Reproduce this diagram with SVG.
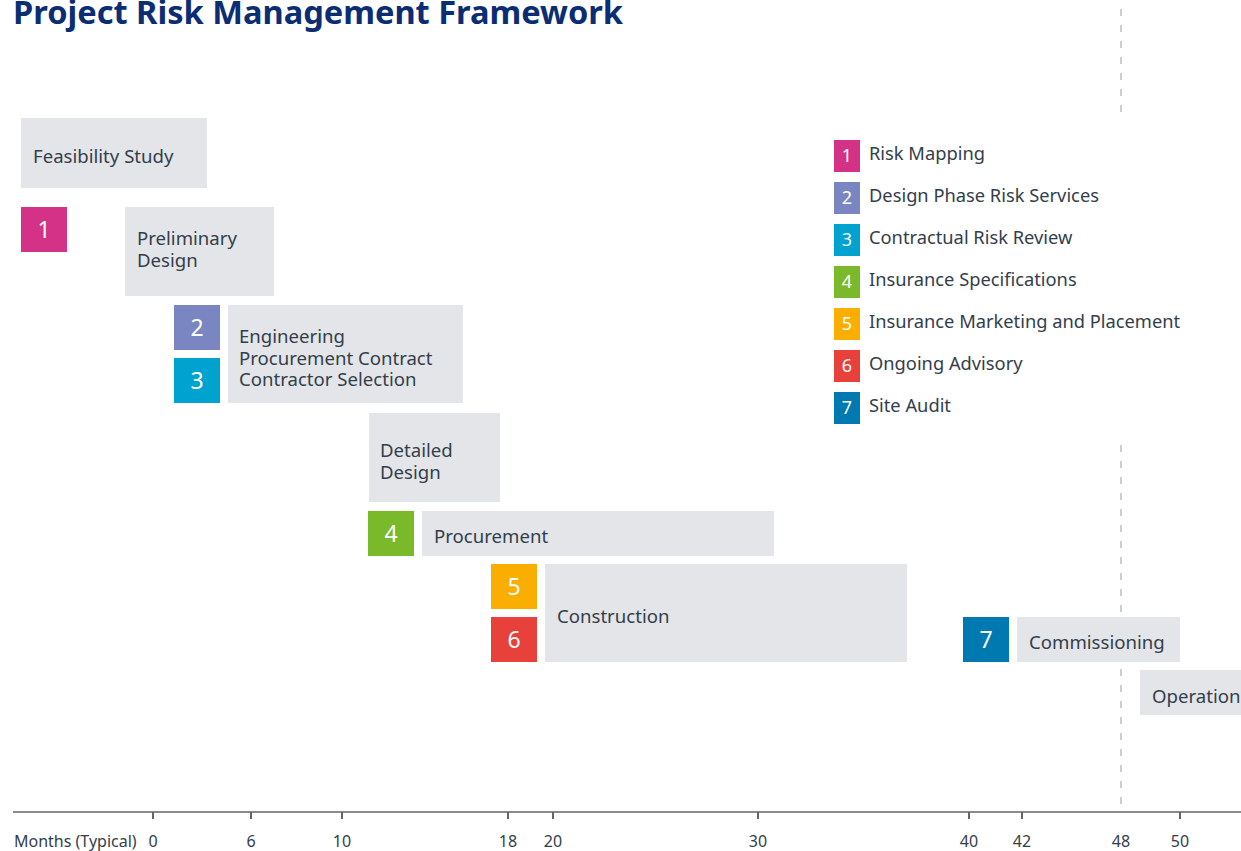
<svg xmlns="http://www.w3.org/2000/svg" width="1241" height="851" viewBox="0 0 1241 851">
<style>
.box{fill:#e4e5e9}
.t{font-family:"Noto Sans","Open Sans",sans-serif;font-size:18.6px;fill:#333e4b}
.lt{font-family:"Noto Sans","Open Sans",sans-serif;font-size:18.3px;fill:#333e4b}
.n{font-family:"Noto Sans","Open Sans",sans-serif;font-size:23px;fill:#ffffff;text-anchor:middle}
.ln{font-family:"Noto Sans","Open Sans",sans-serif;font-size:18px;fill:#ffffff;text-anchor:middle}
.ax{font-family:"Noto Sans","Open Sans",sans-serif;font-size:16px;fill:#333e4b;text-anchor:middle}
.axl{font-family:"Noto Sans","Open Sans",sans-serif;font-size:16px;fill:#333e4b;text-anchor:start}
.tick{stroke:#666;stroke-width:2}
.dash{stroke:#bdbdbd;stroke-width:1.5;stroke-dasharray:7 9}
.c1{fill:#d33287}.c2{fill:#7a86c2}.c3{fill:#00a3cf}.c4{fill:#7ab929}.c5{fill:#f9ae00}.c6{fill:#e8413c}.c7{fill:#0079b0}
</style>
<rect width="1241" height="851" fill="#ffffff"/>
<text x="13" y="24" font-family="Noto Sans,Open Sans,sans-serif" font-size="32.6" font-weight="bold" fill="#0a2d73">Project Risk Management Framework</text>
<g id="connectors">
<line class="dash" x1="1121" y1="9" x2="1121" y2="113"/>
<line class="dash" x1="1121" y1="445" x2="1121" y2="810"/>
</g>
<g id="axis">
<line x1="13" y1="812" x2="1241" y2="812" stroke="#666" stroke-width="1.5"/>
<line class="tick" x1="153" y1="812" x2="153" y2="819"/>
<line class="tick" x1="251" y1="812" x2="251" y2="819"/>
<line class="tick" x1="342" y1="812" x2="342" y2="819"/>
<line class="tick" x1="508" y1="812" x2="508" y2="819"/>
<line class="tick" x1="553" y1="812" x2="553" y2="819"/>
<line class="tick" x1="758" y1="812" x2="758" y2="819"/>
<line class="tick" x1="969" y1="812" x2="969" y2="819"/>
<line class="tick" x1="1022" y1="812" x2="1022" y2="819"/>
<line class="tick" x1="1180" y1="812" x2="1180" y2="819"/>
<text class="axl" x="14" y="847">Months (Typical)</text>
<text class="ax" x="153" y="847">0</text>
<text class="ax" x="251" y="847">6</text>
<text class="ax" x="342" y="847">10</text>
<text class="ax" x="508" y="847">18</text>
<text class="ax" x="553" y="847">20</text>
<text class="ax" x="758" y="847">30</text>
<text class="ax" x="969" y="847">40</text>
<text class="ax" x="1022" y="847">42</text>
<text class="ax" x="1121" y="847">48</text>
<text class="ax" x="1180" y="847">50</text>
</g>
<g id="feasibility"><rect class="box" x="21" y="118" width="186" height="70"/><text class="t" x="33" y="163">Feasibility Study</text></g>
<g id="badge1"><rect class="c1" x="21" y="207" width="46" height="45"/><text class="n" x="44" y="238">1</text></g>
<g id="preliminary"><rect class="box" x="125" y="207" width="149" height="89"/><text class="t" x="137" y="245">Preliminary</text><text class="t" x="137" y="267">Design</text></g>
<g id="badge2"><rect class="c2" x="174" y="305" width="46" height="45"/><text class="n" x="197" y="336">2</text></g>
<g id="badge3"><rect class="c3" x="174" y="358" width="46" height="45"/><text class="n" x="197" y="389">3</text></g>
<g id="epc"><rect class="box" x="228" y="305" width="235" height="98"/><text class="t" x="239" y="343">Engineering</text><text class="t" x="239" y="364.5">Procurement Contract</text><text class="t" x="239" y="386">Contractor Selection</text></g>
<g id="detailed"><rect class="box" x="369" y="413" width="131" height="89"/><text class="t" x="380" y="457">Detailed</text><text class="t" x="380" y="478.5">Design</text></g>
<g id="badge4"><rect class="c4" x="368" y="511" width="46" height="45"/><text class="n" x="391" y="542">4</text></g>
<g id="procurement"><rect class="box" x="422" y="511" width="352" height="45"/><text class="t" x="434" y="543">Procurement</text></g>
<g id="badge5"><rect class="c5" x="491" y="564" width="46" height="45"/><text class="n" x="514" y="595">5</text></g>
<g id="badge6"><rect class="c6" x="491" y="617" width="46" height="45"/><text class="n" x="514" y="648">6</text></g>
<g id="construction"><rect class="box" x="545" y="564" width="362" height="98"/><text class="t" x="557" y="623">Construction</text></g>
<g id="badge7"><rect class="c7" x="963" y="617" width="46" height="45"/><text class="n" x="986" y="648">7</text></g>
<g id="commissioning"><rect class="box" x="1017" y="617" width="163" height="45"/><text class="t" x="1029" y="649">Commissioning</text></g>
<g id="operation"><rect class="box" x="1140" y="670" width="110" height="45"/><text class="t" x="1152" y="703">Operation</text></g>
<g id="legend">
<rect class="c1" x="834" y="140" width="26" height="32"/><text class="ln" x="847" y="162">1</text><text class="lt" x="869" y="160">Risk Mapping</text>
<rect class="c2" x="834" y="182" width="26" height="32"/><text class="ln" x="847" y="204">2</text><text class="lt" x="869" y="202">Design Phase Risk Services</text>
<rect class="c3" x="834" y="224" width="26" height="32"/><text class="ln" x="847" y="246">3</text><text class="lt" x="869" y="244">Contractual Risk Review</text>
<rect class="c4" x="834" y="266" width="26" height="32"/><text class="ln" x="847" y="288">4</text><text class="lt" x="869" y="286">Insurance Specifications</text>
<rect class="c5" x="834" y="308" width="26" height="32"/><text class="ln" x="847" y="330">5</text><text class="lt" x="869" y="328">Insurance Marketing and Placement</text>
<rect class="c6" x="834" y="350" width="26" height="32"/><text class="ln" x="847" y="372">6</text><text class="lt" x="869" y="370">Ongoing Advisory</text>
<rect class="c7" x="834" y="392" width="26" height="32"/><text class="ln" x="847" y="414">7</text><text class="lt" x="869" y="412">Site Audit</text>
</g>
</svg>
